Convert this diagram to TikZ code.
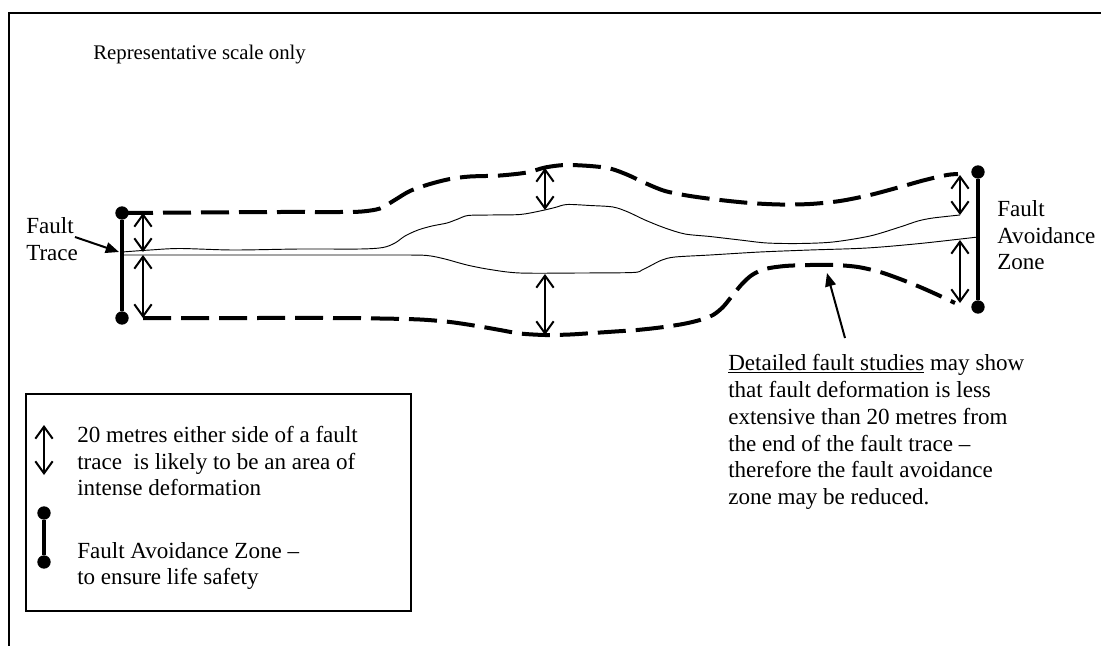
\documentclass[tikz,border=0pt]{standalone}
\usepackage{fontspec}
\setmainfont{Liberation Serif}
\usetikzlibrary{arrows.meta}
\begin{document}
\begin{tikzpicture}[x=0.75pt,y=-0.75pt,
  txt/.style={anchor=base west, inner sep=0pt, font=\fontsize{17.3}{20}\selectfont},
  smalltxt/.style={anchor=base west, inner sep=0pt, font=\fontsize{15.6}{18}\selectfont},
  dashline/.style={line width=3pt, dash pattern=on 21pt off 7.5pt},
  trace/.style={line width=0.7pt},
  dbl/.style={line width=1.5pt, {Straight Barb[length=9pt,width=13pt]}-{Straight Barb[length=9pt,width=13pt]}},
  ptr/.style={line width=1.5pt, -{Triangle[length=10pt,width=8pt]}},
  dot/.style={circle, fill, inner sep=0pt, minimum size=10pt},
  bar/.style={line width=2.5pt}]
\useasboundingbox (0,0) rectangle (1101,646);
% outer frame (only top and left edges visible)
\draw[line width=2pt] (9,646) -- (9,13) -- (1101,13);

\node[smalltxt] (rep) at (93,59) {Representative scale only};

% left fault avoidance zone bar
\node[dot] (ld1) at (122,213) {};
\node[dot] (ld2) at (122,318) {};
\draw[bar] (ld1) -- (ld2);

% right fault avoidance zone bar
\node[dot] (rd1) at (978,172) {};
\node[dot] (rd2) at (978,307) {};
\draw[bar] (rd1) -- (rd2);

% dashed boundaries
\draw[dashline] plot[smooth, tension=0.5] coordinates {(125,213) (200,212.5) (280,212) (340,212) (362,211.5) (380,208.5) (394,200.5) (410,191) (430,184) (450,179) (470,176.5) (500,175.5) (527,172.5) (545,167.5) (565,165) (590,166) (610,168.5) (628,175) (645,183) (665,191) (690,196) (720,200) (750,203) (780,204.5) (810,204) (840,201) (870,195) (900,187) (925,180) (947,175) (958,174)};
\draw[dashline] plot[smooth, tension=0.5] coordinates {(143,318) (250,318) (330,318) (380,318.5) (420,319.5) (450,322) (477,326) (500,330) (520,333.5) (545,335) (570,334.5) (593,333) (615,331.5) (637,330) (660,327.5) (683,324) (700,320) (713,315) (723,307) (732,296) (742,284) (752,275) (765,269) (785,266) (810,265) (835,265) (858,267) (880,272) (900,279) (920,287) (938,295) (955,303)};

% fault trace lines
\draw[trace] plot[smooth, tension=0.5] coordinates {(122,252) (150,250) (180,248.5) (233,250) (300,249) (360,249) (383,247.5) (395,243) (405,236) (418,230) (432,226) (447,223) (458,219) (468,215.5) (490,215) (520,214.5) (540,211) (555,207.5) (567,204.5) (590,205.5) (613,207) (628,212) (645,220) (665,228) (685,234) (710,236.5) (740,240) (767,243) (800,243.5) (833,242) (870,236) (900,227) (918,221) (933,218) (960,215)};
\draw[trace] plot[smooth, tension=0.5] coordinates {(122,255) (200,255) (300,255) (400,255) (427,255.5) (445,259) (467,265) (490,269.5) (520,273) (580,273) (633,272.5) (642,270) (650,266) (662,260) (675,257) (710,255) (760,252) (810,250) (867,248) (920,243.5) (978,237)};

% double arrows (20 m)
\coordinate (a1t) at (143,213); \coordinate (a1b) at (143,252);
\coordinate (a2t) at (143,255); \coordinate (a2b) at (143,318);
\coordinate (a3t) at (545,168); \coordinate (a3b) at (545,210);
\coordinate (a4t) at (545,274); \coordinate (a4b) at (545,335);
\coordinate (a5t) at (960,175); \coordinate (a5b) at (960,215);
\coordinate (a6t) at (960,240); \coordinate (a6b) at (960,303);
\draw[dbl] (a1t) -- (a1b);
\draw[dbl] (a2t) -- (a2b);
\draw[dbl] (a3t) -- (a3b);
\draw[dbl] (a4t) -- (a4b);
\draw[dbl] (a5t) -- (a5b);
\draw[dbl] (a6t) -- (a6b);

% Fault Trace label
\node[txt] (ft1) at (26,233) {Fault};
\node[txt] (ft2) at (26,260) {Trace};
\coordinate (ftp0) at (75,237);
\coordinate (ftp1) at (119,252);
\draw[ptr] (ftp0) -- (ftp1);

% Fault Avoidance Zone label (right)
\node[txt] (fz1) at (997,216) {Fault};
\node[txt] (fz2) at (997,243) {Avoidance};
\node[txt] (fz3) at (997,269) {Zone};

% Detailed fault studies note
\coordinate (dp0) at (845,338);
\coordinate (dp1) at (827,273);
\draw[ptr] (dp0) -- (dp1);
\node[txt] (d1) at (728,370) {\underline{Detailed fault studies} may show};
\node[txt] (d2) at (728,397) {that fault deformation is less};
\node[txt] (d3) at (728,424) {extensive than 20 metres from};
\node[txt] (d4) at (728,451) {the end of the fault trace –};
\node[txt] (d5) at (728,477) {therefore the fault avoidance};
\node[txt] (d6) at (728,504) {zone may be reduced.};

% legend
\draw[line width=1pt] (26,394) rectangle (411,611);
\coordinate (la1) at (44,425); \coordinate (la2) at (44,475);
\draw[dbl] (la1) -- (la2);
\node[dot] (lg1) at (44,513) {};
\node[dot] (lg2) at (44,562) {};
\draw[bar] (lg1) -- (lg2);
\node[txt] (l1) at (77,442) {20 metres either side of a fault};
\node[txt] (l2) at (77,469) {trace\ \ is likely to be an area of};
\node[txt] (l3) at (77,495) {intense deformation};
\node[txt] (l4) at (77,558) {Fault Avoidance Zone –};
\node[txt] (l5) at (77,584) {to ensure life safety};
\end{tikzpicture}
\end{document}
